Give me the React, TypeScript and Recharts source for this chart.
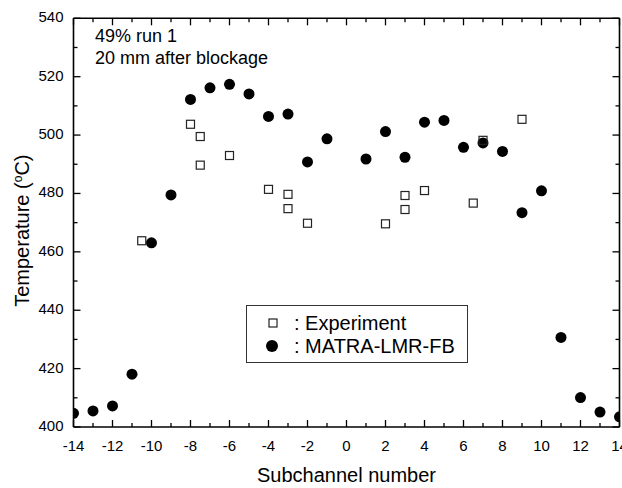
import {Legend, Scatter, ScatterChart, XAxis, YAxis} from "recharts";

const xTicks = [-14, -13, -12, -11, -10, -9, -8, -7, -6, -5, -4, -3, -2, -1, 0, 1, 2, 3, 4, 5, 6, 7, 8, 9, 10, 11, 12, 13, 14];
const yTicks = [400, 410, 420, 430, 440, 450, 460, 470, 480, 490, 500, 510, 520, 530, 540];

const expSubchannel = [-10.5, -8, -7.5, -7.5, -6, -4, -3, -3, -2, 2, 3, 3, 4, 6.5, 7, 9];
const expTemperature = [463.8, 503.7, 499.5, 489.7, 493, 481.4, 479.7, 474.8, 469.8, 469.6, 479.3, 474.5, 481, 476.7, 498.2, 505.4];

const calcSubchannel = [-14, -13, -12, -11, -10, -9, -8, -7, -6, -5, -4, -3, -2, -1, 1, 2, 3, 4, 5, 6, 7, 8, 9, 10, 11, 12, 13, 14];
const calcTemperature = [404.7, 405.5, 407.2, 418.1, 463.1, 479.5, 512.2, 516.2, 517.4, 514.1, 506.4, 507.2, 490.8, 498.7, 491.8, 501.2, 492.4, 504.4, 505, 495.8, 497.3, 494.4, 473.4, 480.9, 430.7, 410.1, 405.1, 403.5];

const expData = expSubchannel.map((x, i) => ({x, t: expTemperature[i]}));
const calcData = calcSubchannel.map((x, i) => ({x, t: calcTemperature[i]}));

const FONT = "'Liberation Sans', Arial, sans-serif";

const BottomTick = ({x, y, payload}: any) => {
    const major = payload.value % 2 === 0;
    return (
        <g>
            <line x1={x} x2={x} y1={y} y2={y - (major ? 7 : 4)} stroke="#000" strokeWidth={1.3}/>
            {major && <text x={x} y={y + 23.5} textAnchor="middle" fontSize={15} fill="#000">{payload.value}</text>}
        </g>
    );
};

const TopTick = ({x, y, payload}: any) => {
    const major = payload.value % 2 === 0;
    return <line x1={x} x2={x} y1={y} y2={y + (major ? 7 : 4)} stroke="#000" strokeWidth={1.3}/>;
};

const LeftTick = ({x, y, payload}: any) => {
    const major = payload.value % 20 === 0;
    return (
        <g>
            <line x1={x} x2={x + (major ? 7 : 4)} y1={y} y2={y} stroke="#000" strokeWidth={1.3}/>
            {major && <text x={x - 10} y={y + 4} textAnchor="end" fontSize={15} fill="#000">{payload.value}</text>}
        </g>
    );
};

const RightTick = ({x, y, payload}: any) => {
    const major = payload.value % 20 === 0;
    return <line x1={x} x2={x - (major ? 7 : 4)} y1={y} y2={y} stroke="#000" strokeWidth={1.3}/>;
};

const squareShape = (p: any) => (
    <rect x={p.cx - 4} y={p.cy - 4} width={8} height={8} fill="none" stroke="#222" strokeWidth={1.2}/>
);
const dotShape = (p: any) => <circle cx={p.cx} cy={p.cy} r={5.5} fill="#000"/>;

const LegendBox = () => (
    <svg width={222} height={58} style={{display: 'block', fontFamily: FONT}}>
        <rect x={0.5} y={0.5} width={221} height={57} fill="#fff" stroke="#333" strokeWidth={1}/>
        <rect x={23} y={14} width={8} height={8} fill="none" stroke="#222" strokeWidth={1.2}/>
        <circle cx={26} cy={41} r={6} fill="#000"/>
        <text x={48} y={24.5} fontSize={20} fill="#000">: Experiment</text>
        <text x={48} y={48} fontSize={20} fill="#000">: MATRA-LMR-FB</text>
    </svg>
);

const axisLine = {stroke: '#000', strokeWidth: 1.6};

export default function App() {
    return (
        <div style={{position: 'absolute', left: 0, top: 0, width: 622, height: 488, background: '#fff', fontFamily: FONT}}>
            <ScatterChart width={622} height={488} margin={{top: 17.3, right: 1.5, bottom: 1, left: 0}} style={{fontFamily: FONT}}>
                <XAxis xAxisId="b" dataKey="x" type="number" domain={[-14, 14]} ticks={xTicks} interval={0}
                       allowDataOverflow orientation="bottom" height={60} tickSize={0} tickMargin={0}
                       axisLine={axisLine} tickLine={false} tick={<BottomTick/>}
                       label={{
                           content: ({viewBox}: any) => (
                               <text x={viewBox.x + viewBox.width / 2} y={viewBox.y + 55} textAnchor="middle"
                                     fontSize={20} fill="#000">Subchannel number</text>
                           )
                       }}/>
                <XAxis xAxisId="t" dataKey="x" type="number" domain={[-14, 14]} ticks={xTicks} interval={0}
                       allowDataOverflow orientation="top" height={1} tickSize={0} tickMargin={0}
                       axisLine={axisLine} tickLine={false} tick={<TopTick/>}/>
                <YAxis yAxisId="l" dataKey="t" type="number" domain={[400, 540]} ticks={yTicks} interval={0}
                       allowDataOverflow orientation="left" width={73.5} tickSize={0} tickMargin={0}
                       axisLine={axisLine} tickLine={false} tick={<LeftTick/>}
                       label={{
                           content: ({viewBox}: any) => {
                               const cx = 29;
                               const cy = viewBox.y + viewBox.height / 2 + 8;
                               return (
                                   <text x={cx} y={cy} transform={`rotate(-90 ${cx} ${cy})`} textAnchor="middle"
                                         fontSize={20} fill="#000">
                                       Temperature (<tspan dy={-7} fontSize={12}>o</tspan><tspan dy={7}>C)</tspan>
                                   </text>
                               );
                           }
                       }}/>
                <YAxis yAxisId="r" dataKey="t" type="number" domain={[400, 540]} ticks={yTicks} interval={0}
                       allowDataOverflow orientation="right" width={1} tickSize={0} tickMargin={0}
                       axisLine={axisLine} tickLine={false} tick={<RightTick/>}/>
                <Legend layout="vertical" align="center" verticalAlign="middle" content={<LegendBox/>}
                        wrapperStyle={{position: 'absolute', left: 246, top: 305, width: 222, height: 58}}/>
                <Scatter name="MATRA-LMR-FB" data={calcData} xAxisId="b" yAxisId="l" shape={dotShape}
                         isAnimationActive={false}/>
                <Scatter name="Experiment" data={expData} xAxisId="b" yAxisId="l" shape={squareShape}
                         isAnimationActive={false}/>
            </ScatterChart>
            <svg width={320} height={80} style={{position: 'absolute', left: 0, top: 0, pointerEvents: 'none'}}>
                <text x={95} y={41.5} fontSize={18} fill="#000" fontFamily={FONT}>49% run 1</text>
                <text x={95} y={63.5} fontSize={18} fill="#000" fontFamily={FONT}>20 mm after blockage</text>
            </svg>
        </div>
    );
}
